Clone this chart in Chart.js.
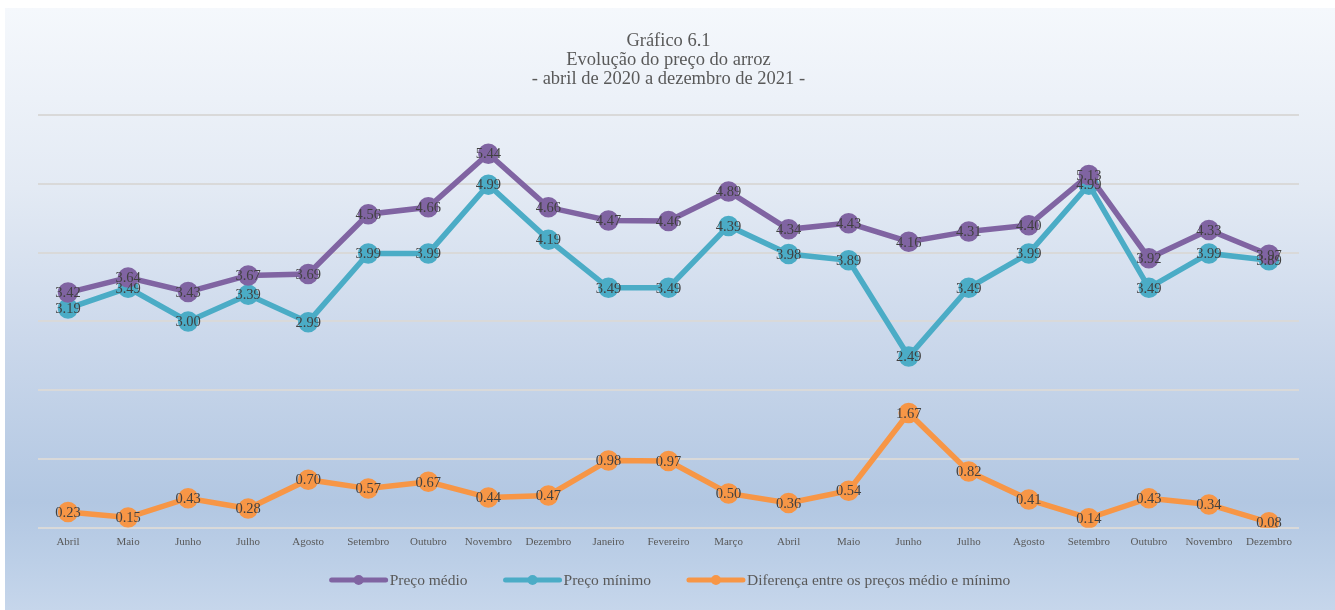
<!DOCTYPE html>
<html>
<head>
<meta charset="utf-8">
<script src="https://cdn.jsdelivr.net/npm/chart.js@4/dist/chart.umd.min.js"></script>
<style>
    html, body { margin: 0; padding: 0; background: #ffffff; }
    #wrap {
        position: absolute;
        left: 5px;
        top: 8px;
        width: 1330px;
        height: 602px;
        background: linear-gradient(to bottom, #f5f8fc 0%, #e3eaf4 30%, #cbd8eb 55%, #b2c7e2 82%, #bccfe7 92%, #c6d6eb 100%);
    }
</style>
</head>
<body>
<div id="wrap"><canvas id="chart" width="1330" height="602"></canvas></div>
<script>
// categories (abril 2020 .. dezembro 2021)
const months = ['Abril', 'Maio', 'Junho', 'Julho', 'Agosto', 'Setembro', 'Outubro', 'Novembro', 'Dezembro',
    'Janeiro', 'Fevereiro', 'Março', 'Abril', 'Maio', 'Junho', 'Julho', 'Agosto', 'Setembro', 'Outubro',
    'Novembro', 'Dezembro'];

const precoMedio = [3.42, 3.64, 3.43, 3.67, 3.69, 4.56, 4.66, 5.44, 4.66, 4.47, 4.46, 4.89, 4.34, 4.43,
    4.16, 4.31, 4.40, 5.13, 3.92, 4.33, 3.97];
const precoMinimo = [3.19, 3.49, 3.00, 3.39, 2.99, 3.99, 3.99, 4.99, 4.19, 3.49, 3.49, 4.39, 3.98, 3.89,
    2.49, 3.49, 3.99, 4.99, 3.49, 3.99, 3.89];
const diferenca = [0.23, 0.15, 0.43, 0.28, 0.70, 0.57, 0.67, 0.44, 0.47, 0.98, 0.97, 0.50, 0.36, 0.54,
    1.67, 0.82, 0.41, 0.14, 0.43, 0.34, 0.08];

const titleLines = ['Gráfico 6.1', 'Evolução do preço do arroz', '- abril de 2020 a dezembro de 2021 -'];

const SERIF = "'Liberation Serif', 'DejaVu Serif', serif";

// value labels drawn on every point
const valueLabels = {
    id: 'valueLabels',
    afterDatasetsDraw(chart) {
        const ctx = chart.ctx;
        ctx.save();
        ctx.font = '14.5px ' + SERIF;
        ctx.fillStyle = '#404040';
        ctx.textAlign = 'center';
        ctx.textBaseline = 'middle';
        chart.data.datasets.forEach((ds, i) => {
            const meta = chart.getDatasetMeta(i);
            meta.data.forEach((pt, j) => {
                ctx.fillText(ds.data[j].toFixed(2), pt.x, pt.y + 1);
            });
        });
        ctx.restore();
    }
};

// legend drawn by hand: line with a marker, then the label
const lineLegend = {
    id: 'lineLegend',
    afterDraw(chart) {
        const ctx = chart.ctx;
        const lineLen = 58, gapText = 2, gapItem = 36;
        const y = 572;
        ctx.save();
        ctx.font = '15.5px ' + SERIF;
        ctx.textBaseline = 'middle';
        const items = chart.data.datasets.map(ds => ({
            label: ds.label,
            color: ds.borderColor,
            w: ctx.measureText(ds.label).width
        }));
        let total = 0;
        items.forEach((it, i) => {
            total += lineLen + gapText + it.w + (i < items.length - 1 ? gapItem : 0);
        });
        let x = chart.width / 2 - total / 2;
        items.forEach(it => {
            ctx.strokeStyle = it.color;
            ctx.lineWidth = 5;
            ctx.lineCap = 'round';
            ctx.beginPath();
            ctx.moveTo(x + 2, y);
            ctx.lineTo(x + lineLen - 2, y);
            ctx.stroke();
            ctx.fillStyle = it.color;
            ctx.beginPath();
            ctx.arc(x + lineLen / 2, y, 5, 0, Math.PI * 2);
            ctx.fill();
            ctx.fillStyle = '#595959';
            ctx.textAlign = 'left';
            ctx.fillText(it.label, x + lineLen + gapText, y + 1);
            x += lineLen + gapText + it.w + gapItem;
        });
        ctx.restore();
    }
};

function line(label, data, color) {
    return {
        label: label,
        data: data,
        borderColor: color,
        backgroundColor: color,
        pointBackgroundColor: color,
        pointBorderColor: color,
        borderWidth: 5.5,
        pointRadius: 7.5,
        tension: 0,
        fill: false
    };
}

new Chart(document.getElementById('chart'), {
    type: 'line',
    data: {
        labels: months,
        datasets: [
            line('Preço médio', precoMedio, '#8064a2'),
            line('Preço mínimo', precoMinimo, '#4bacc6'),
            line('Diferença entre os preços médio e mínimo', diferenca, '#f79646')
        ]
    },
    options: {
        responsive: false,
        animation: false,
        layout: {
            padding: { left: 33, right: 36, top: 14, bottom: 61 }
        },
        scales: {
            x: {
                offset: true,
                grid: { display: false },
                border: { display: false },
                ticks: {
                    color: '#595959',
                    font: { family: SERIF, size: 11 },
                    maxRotation: 0,
                    autoSkip: false,
                    padding: 0
                }
            },
            y: {
                min: 0,
                max: 6,
                grid: { color: '#d9d9d9', lineWidth: 2, drawTicks: false },
                border: { display: false },
                ticks: { display: false, stepSize: 1 }
            }
        },
        plugins: {
            title: {
                display: true,
                text: titleLines,
                color: '#595959',
                font: { family: SERIF, size: 18.5, weight: 'normal', lineHeight: 1.03 },
                padding: { top: 10, bottom: 26 }
            },
            legend: { display: false },
            tooltip: { enabled: false }
        }
    },
    plugins: [valueLabels, lineLegend]
});
</script>
</body>
</html>
